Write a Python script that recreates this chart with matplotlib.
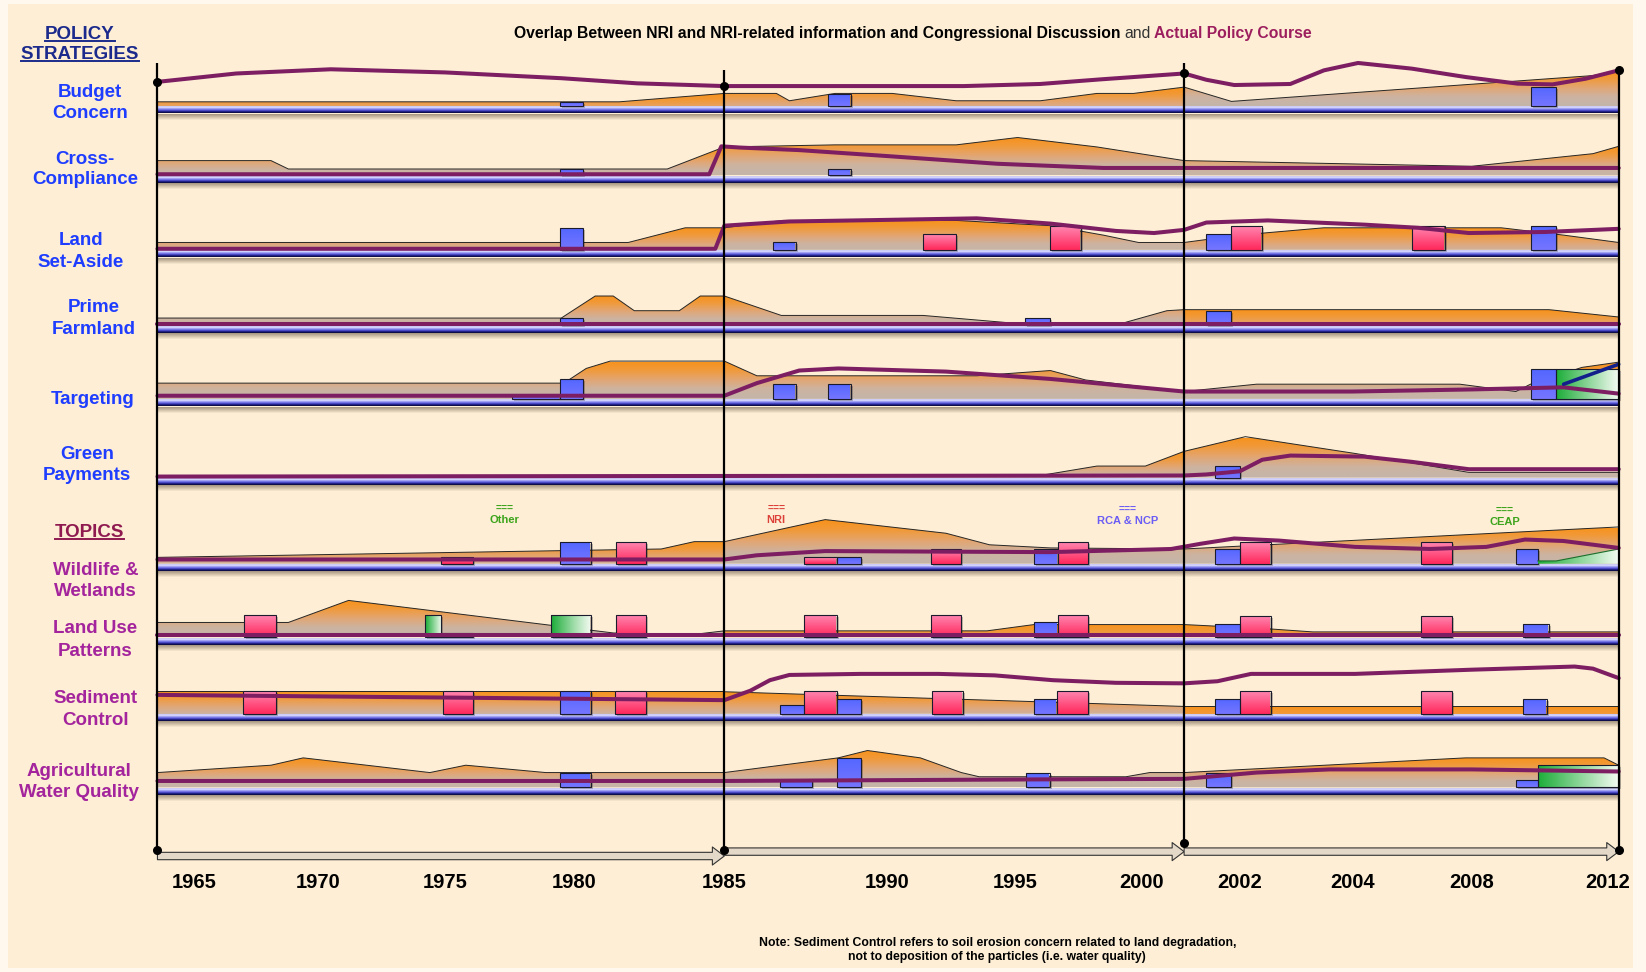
import numpy as np
import matplotlib
matplotlib.use("Agg")
import matplotlib.pyplot as plt
import matplotlib.transforms as mtransforms
from matplotlib.patches import Polygon, Rectangle
from matplotlib.lines import Line2D
from matplotlib.colors import LinearSegmentedColormap

plt.rcParams['font.family'] = ['Liberation Sans', 'DejaVu Sans']

# ---------------------------------------------------------------- DATA
tick_years = [1965, 1970, 1975, 1980, 1985, 1990, 1995, 2000, 2002, 2004, 2008, 2012]
period_breaks = [1963.6, 1985, 2001, 2012]

strategy_labels = ["Budget\nConcern", "Cross-\nCompliance", "Land\nSet-Aside",
                   "Prime\nFarmland", "Targeting", "Green\nPayments"]
topic_labels = ["Wildlife &\nWetlands", "Land Use\nPatterns", "Sediment\nControl",
                "Agricultural\nWater Quality"]
legend_labels = ["Other", "NRI", "RCA & NCP", "CEAP"]

# Budget Concern
budget_disc_x = [1963.6, 1981.5, 1985, 1986.6, 1987.0, 1988.4, 1990.2, 1992.7, 1996.0, 1998.25, 1999.7, 2001, 2001.85, 2011.3, 2012]
budget_disc_v = [4, 4, 12, 12, 5, 12, 12, 5, 5, 12, 12, 18, 4.4, 29, 34]
budget_pol_x = [1963.6, 1966.7, 1970.5, 1975.0, 1979.5, 1982.1, 1985, 1990, 1993, 1996, 1998.4, 2001,
                2001.4, 2001.9, 2002.9, 2003.5, 2004.2, 2006.0, 2007.8, 2009.25, 2010.2, 2011.1, 2012]
budget_pol_v = [23, 31, 35, 32, 26.5, 21.6, 19, 19, 19, 21, 25.4, 31,
                25, 20, 21, 34, 41, 35.6, 27.6, 21.3, 20.6, 26, 34]
budget_events = [(1979.45, 1980.3, 4, 'RCA'), (1988.2, 1988.9, 11, 'RCA'), (2009.6, 2010.3, 18, 'RCA')]

# Cross-Compliance
cross_disc_x = [1963.6, 1968.1, 1968.8, 1983.1, 1985, 1988.4, 1992.7, 1995.1, 1998.25, 2001, 2008.0, 2011.3, 2012]
cross_disc_v = [14, 14, 6, 6, 27, 29, 29, 36, 27, 14, 8.6, 20.6, 27.6]
cross_pol_x = [1963.6, 1984.5, 1984.9, 1985.5, 1987.3, 1990.2, 1994.3, 1998.5, 2001, 2012]
cross_pol_v = [1, 1, 27.6, 26.4, 24, 18, 11, 7, 7, 7]
cross_events = [(1979.45, 1980.3, 6, 'RCA'), (1988.2, 1988.9, 6, 'RCA')]

# Land Set-Aside
setaside_disc_x = [1963.6, 1981.8, 1983.7, 1985, 1986.8, 1992.7, 1996.4, 1998.5, 1999.9, 2001, 2002, 2003.5, 2008.8, 2010.5, 2012]
setaside_disc_v = [7, 7, 21, 21, 28, 28, 23, 14, 7, 7, 14, 21, 21, 14, 7]
setaside_pol_x = [1963.6, 1984.7, 1985, 1987.0, 1989, 1993.5, 1996.4, 1999, 2000.3, 2001, 2001.4, 2002.5, 2004.4, 2006.2, 2007.9, 2010, 2012]
setaside_pol_v = [1, 1, 23, 27, 28, 30, 25, 18, 16, 19, 26, 28, 24, 21, 16, 17, 20]
setaside_events = [(1979.45, 1980.3, 21, 'RCA'), (1986.5, 1987.2, 7, 'RCA'), (1991.4, 1992.7, 15, 'NRI'),
                   (1996.4, 1997.6, 23, 'NRI'), (2001.4, 2001.85, 15, 'RCA'), (2001.85, 2002.4, 23, 'NRI'),
                   (2006.0, 2007.1, 23, 'NRI'), (2009.6, 2010.3, 23, 'RCA')]

# Prime Farmland
prime_disc_x = [1963.6, 1979.5, 1980.7, 1981.3, 1982.0, 1983.5, 1984.2, 1985, 1986.75, 1991.4, 1995.5, 1999.1, 2000.6, 2001, 2010.1, 2012]
prime_disc_v = [7, 7, 28, 28, 14, 14, 28, 28, 9.5, 9.5, 1, 1, 14, 15, 15, 8]
prime_pol_x = [1963.6, 2012]
prime_pol_v = [1, 1]
prime_events = [(1979.45, 1980.3, 7, 'RCA'), (1995.4, 1996.4, 7, 'RCA'), (2001.4, 2001.85, 14, 'RCA')]

# Targeting
target_disc_x = [1963.6, 1979.6, 1980.4, 1981.2, 1985, 1986.0, 1993.5, 1996.4, 1997.8, 2001, 2002.3, 2007.6, 2009.2, 2009.6, 2011.0, 2012]
target_disc_v = [15, 15, 29, 36, 36, 22, 22, 27, 18, 7, 14, 14, 7, 14, 30, 35]
target_pol_x = [1963.6, 1985, 1986.0, 1987.3, 1988.5, 1992.3, 1996.4, 2001, 2004, 2008, 2010.5, 2012]
target_pol_v = [3, 3, 15, 27, 29, 26, 19, 7, 7, 9, 11, 5]
target_events = [(1977.6, 1979.45, 3, 'RCA'), (1979.45, 1980.3, 19, 'RCA'), (1986.5, 1987.2, 14, 'RCA'),
                 (1988.2, 1988.9, 14, 'RCA'), (2009.6, 2010.3, 28, 'RCA'), (2010.3, 2012, 28, 'CEAP')]
target_ceap_x = [2010.5, 2012]
target_ceap_v = [14, 33]

# Green Payments
green_disc_x = [1963.6, 1985, 1996.0, 1998.25, 2000.1, 2001, 2002.1, 2004.1, 2007.9, 2012]
green_disc_v = [2, 2, 2, 11, 11, 25, 39, 23, 5, 5]
green_pol_x = [1963.6, 2001, 2001.4, 2002.0, 2002.4, 2002.9, 2004.4, 2006.0, 2007.9, 2012]
green_pol_v = [1, 2, 3, 6, 17, 21, 20, 15, 8, 8]
green_events = [(2001.55, 2002.0, 11, 'RCA')]

# Wildlife & Wetlands
wild_disc_x = [1963.6, 1982.9, 1984.0, 1985, 1988.1, 1992.3, 1994.0, 1996.4, 2001, 2012]
wild_disc_v = [6, 14, 21, 21, 42, 29, 18, 15, 14, 35]
wild_pol_x = [1963.6, 1985, 1986, 1988.1, 1996.4, 2000.7, 2001.3, 2001.9, 2002.7, 2004.1, 2006.6, 2008.4, 2009.45, 2010.5, 2012]
wild_pol_v = [4, 4, 8, 12, 11, 14, 19, 24, 22, 16, 14, 16, 23, 21.6, 15]
wild_events = [(1974.85, 1976.1, 6, 'NRI'), (1979.45, 1980.55, 21, 'RCA'), (1981.4, 1982.4, 21, 'NRI'),
               (1987.45, 1988.45, 6, 'NRI'), (1988.45, 1989.2, 6, 'RCA'), (1991.7, 1992.9, 14, 'NRI'),
               (1995.75, 1996.7, 14, 'RCA'), (1996.7, 1997.9, 21, 'NRI'), (2001.55, 2002.0, 14, 'RCA'),
               (2002.0, 2002.55, 21, 'NRI'), (2006.3, 2007.35, 21, 'NRI'), (2009.2, 2009.8, 14, 'RCA')]
wild_ceap_x = [2009.8, 2010.3, 2012]
wild_ceap_v = [2.6, 2.6, 14]

# Land Use Patterns
landuse_disc_x = [1963.6, 1968.8, 1971.2, 1981.3, 1983.8, 1985, 1993.9, 1995.75, 2001, 2002.5, 2003.3, 2012]
landuse_disc_v = [14, 14, 35, 4, 2, 6, 6, 12, 12, 8, 5, 5]
landuse_pol_x = [1963.6, 2012]
landuse_pol_v = [2, 2]
landuse_events = [(1967.0, 1968.3, 21, 'NRI'), (1974.2, 1974.85, 21, 'Other'), (1974.85, 1976.1, 4, 'NRI'),
                  (1979.1, 1980.55, 21, 'Other'), (1981.4, 1982.4, 21, 'NRI'), (1987.45, 1988.45, 21, 'NRI'),
                  (1991.7, 1992.9, 21, 'NRI'), (1995.75, 1996.7, 14, 'RCA'), (1996.7, 1997.9, 21, 'NRI'),
                  (2001.55, 2002.0, 13, 'RCA'), (2002.0, 2002.55, 20, 'NRI'), (2006.3, 2007.35, 20, 'NRI'),
                  (2009.4, 2010.1, 13, 'RCA')]

# Sediment Control
sediment_disc_x = [1963.6, 1985, 1985, 2001, 2012]
sediment_disc_v = [22, 22, 21, 7, 7]
sediment_pol_x = [1963.6, 1985, 1985.8, 1986.4, 1987.0, 1989.2, 1992, 1994.2, 1996.5, 1999, 2001,
                  2001.6, 2002.2, 2004.1, 2008, 2010.8, 2011.3, 2012]
sediment_pol_v = [18, 13, 22, 32, 37, 38, 38, 36.6, 32, 29.5, 29, 31, 38, 38, 42, 45, 43, 34]
sediment_events = [(1966.95, 1968.3, 22, 'NRI'), (1974.9, 1976.1, 22, 'NRI'), (1979.45, 1980.55, 22, 'RCA'),
                   (1981.35, 1982.4, 22, 'NRI'), (1986.7, 1987.45, 8, 'RCA'), (1987.45, 1988.45, 22, 'NRI'),
                   (1988.45, 1989.2, 14, 'RCA'), (1991.75, 1992.95, 22, 'NRI'), (1995.75, 1996.65, 14, 'RCA'),
                   (1996.65, 1997.9, 22, 'NRI'), (2001.55, 2002.0, 14, 'RCA'), (2002.0, 2002.55, 22, 'NRI'),
                   (2006.3, 2007.35, 22, 'NRI'), (2009.4, 2010.05, 14, 'RCA')]

# Agricultural Water Quality
water_disc_x = [1963.6, 1968.1, 1969.4, 1974.4, 1975.8, 1978.9, 1985, 1988.5, 1989.4, 1991.3, 1992.9,
                1993.6, 1999.4, 2000.2, 2001, 2007.8, 2011.6, 2012]
water_disc_v = [14, 21, 28, 14, 21, 14, 14, 28, 35, 28, 14, 10, 10, 14, 14, 28, 28, 21]
water_pol_x = [1963.6, 1985, 1996, 2001, 2002.3, 2003.6, 2008, 2012]
water_pol_v = [6, 6, 7.5, 8, 14, 17, 17, 15]
water_events = [(1979.45, 1980.55, 14, 'RCA'), (1986.7, 1987.7, 7, 'RCA'), (1988.45, 1989.2, 28, 'RCA'),
                (1995.45, 1996.4, 14, 'RCA'), (2001.4, 2001.85, 14, 'RCA'), (2009.2, 2009.8, 7, 'RCA'),
                (2009.8, 2012, 21, 'CEAP')]

rows = [
    (budget_disc_x, budget_disc_v, budget_pol_x, budget_pol_v, budget_events),
    (cross_disc_x, cross_disc_v, cross_pol_x, cross_pol_v, cross_events),
    (setaside_disc_x, setaside_disc_v, setaside_pol_x, setaside_pol_v, setaside_events),
    (prime_disc_x, prime_disc_v, prime_pol_x, prime_pol_v, prime_events),
    (target_disc_x, target_disc_v, target_pol_x, target_pol_v, target_events),
    (green_disc_x, green_disc_v, green_pol_x, green_pol_v, green_events),
    (wild_disc_x, wild_disc_v, wild_pol_x, wild_pol_v, wild_events),
    (landuse_disc_x, landuse_disc_v, landuse_pol_x, landuse_pol_v, landuse_events),
    (sediment_disc_x, sediment_disc_v, sediment_pol_x, sediment_pol_v, sediment_events),
    (water_disc_x, water_disc_v, water_pol_x, water_pol_v, water_events),
]

# ---------------------------------------------------------------- LAYOUT / STYLE
W, H = 1568.0, 926.0                      # layout units of the canvas
knot_years = [1950.0, 1963.6, 1965, 1970, 1975, 1980, 1985, 1990, 1995, 2000, 2001, 2002, 2004, 2008, 2012, 2030]
knot_pos = [-190, 150, 185, 303, 424, 547, 690, 845, 967, 1087, 1128, 1181, 1288, 1402, 1542, 2172]
row_base = [101, 167, 238, 310, 380, 455, 537, 607, 680, 750]
TUBE_H = 7
GRAD_SPAN = 30

POLICY_C = '#7D1E63'
AREA_COLS = ['#F8921A', '#F09A3C', '#E2A673', '#CDB3A0', '#C4B5A9']
TUBE_COLS = ['#8C8CB4', '#C8C8F4', '#DCDCFF', '#ABABF6', '#7D7DEA', '#4E4ECC', '#23238C', '#0E0E4C']
EV_COLS = {'RCA': ['#5367FF', '#7575FF'], 'NRI': ['#FF88B3', '#FF2A5C'],
           'Other': ['#1FAE3B', '#F4FBF2'], 'CEAP': ['#1FAE3B', '#F4FBF2']}


def fwd(x):
    return np.interp(x, knot_years, knot_pos)


def inv(p):
    return np.interp(p, knot_pos, knot_years)


fig = plt.figure(figsize=(16.46, 9.72), dpi=100)
fig.patch.set_facecolor('#FFF8EE')
fig.add_artist(Rectangle((8 / W, 1 - 922 / H), (1556 - 8) / W, (922 - 4) / H,
                         transform=fig.transFigure, fc='#FDEED5', ec='none', zorder=-10))

xlim = (1963.0, 2012.4)
p0, p1 = fwd(xlim[0]), fwd(xlim[1])
ax = fig.add_axes([p0 / W, 0, (p1 - p0) / W, 1])
ax.set_xscale('function', functions=(fwd, inv))
ax.set_xlim(*xlim)
ax.set_ylim(H, 0)
ax.set_autoscale_on(False)
ax.axis('off')


def grad(x0, x1, ytop, ybot, cols, horizontal=False, z=3):
    cmap = LinearSegmentedColormap.from_list('g', cols)
    arr = np.linspace(0, 1, 64)
    arr = arr.reshape(1, -1) if horizontal else arr.reshape(-1, 1)
    im = ax.imshow(arr, cmap=cmap, vmin=0, vmax=1, extent=(x0, x1, ybot, ytop), origin='upper',
                   aspect='auto', interpolation='bilinear', zorder=z)
    return im


def split_segments(xs, vs, breaks=(1985, 2001)):
    segs, cx, cv = [], [], []
    i, n = 0, len(xs)
    while i < n:
        cx.append(xs[i]); cv.append(vs[i])
        if xs[i] in breaks and len(cx) > 1:
            segs.append((cx, cv))
            if i + 1 < n and xs[i + 1] == xs[i]:
                i += 1
            cx, cv = [xs[i]], [vs[i]]
        i += 1
    if len(cx) > 1:
        segs.append((cx, cv))
    return segs


def draw_area(xs, vs, base, cols, horizontal=False, z=1, outline=True, top_anchor=True):
    for sx, sv in split_segments(xs, vs):
        sx = np.asarray(sx, float); sv = np.asarray(sv, float)
        verts = [(sx[0], base)] + list(zip(sx, base - sv)) + [(sx[-1], base)]
        poly = Polygon(verts, closed=True, fc='none', ec='none')
        poly.set_transform(ax.transData)
        ytop = base - sv.max()
        ybot = max(base, ytop + GRAD_SPAN) if top_anchor else base
        im = grad(sx[0], sx[-1], ytop, ybot, cols, horizontal=horizontal, z=z)
        im.set_clip_path(poly)
        if outline:
            ax.plot(sx, base - sv, color='#262626', lw=0.7, zorder=z + 0.5)


shadow_tr = mtransforms.offset_copy(ax.transData, fig=fig, x=2, y=-2, units='dots')
tube_shadow = np.zeros((16, 1, 4))
tube_shadow[..., :3] = (0.30, 0.22, 0.15)
tube_shadow[..., 3] = np.linspace(0.55, 0.0, 16)[:, None]

for (dx, dv, px, pv, events), base in zip(rows, row_base):
    draw_area(dx, dv, base, AREA_COLS)
    # tube
    grad(period_breaks[0], period_breaks[-1], base, base + TUBE_H, TUBE_COLS, z=2)
    ax.imshow(tube_shadow, extent=(period_breaks[0], period_breaks[-1], base + TUBE_H + 7, base + TUBE_H),
              origin='upper', aspect='auto', interpolation='bilinear', zorder=1.8)
    # events
    for x0, x1, h, kind in events:
        ax.add_patch(Rectangle((x0, base - h), x1 - x0, h, fc=(0, 0, 0, 0.22), ec='none',
                               transform=shadow_tr, zorder=2.9))
        grad(x0, x1, base - h, base, EV_COLS[kind], horizontal=kind in ('Other', 'CEAP'), z=3)
        ax.add_patch(Rectangle((x0, base - h), x1 - x0, h, fc='none', ec='#1B1B2E', lw=0.8, zorder=3.2))
    # actual policy course
    ax.plot(px, base - np.asarray(pv, float), color=POLICY_C, lw=2.9, zorder=5,
            solid_joinstyle='round', solid_capstyle='round')

# CEAP extras
draw_area(wild_ceap_x, wild_ceap_v, row_base[6], EV_COLS['CEAP'], horizontal=True, z=3.3,
          outline=False, top_anchor=False)
ax.plot(wild_ceap_x, row_base[6] - np.asarray(wild_ceap_v), color='#1B6E2A', lw=0.8, zorder=3.4)
ax.plot(target_ceap_x, row_base[4] - np.asarray(target_ceap_v), color='#13208C', lw=2.6, zorder=5.5,
        solid_capstyle='round')

# period dividers
div_top = [60, 67, 60, 68]
div_bot = [810, 810, 803, 810]
for x, t, b in zip(period_breaks, div_top, div_bot):
    ax.plot([x, x], [t, b], color='black', lw=1.6, zorder=7, solid_capstyle='butt', clip_on=False)
top_dots = row_base[0] - np.interp(period_breaks, budget_pol_x, budget_pol_v)
ax.scatter(period_breaks, top_dots, s=30, c='black', zorder=8, clip_on=False)
ax.scatter(period_breaks, div_bot, s=30, c='black', zorder=8, clip_on=False)

# period arrows
arrow_y = [815.5, 811.3, 811.3]
for a, b, y in zip(period_breaks[:-1], period_breaks[1:], arrow_y):
    ax.annotate('', xy=(b, y), xytext=(a, y),
                arrowprops=dict(arrowstyle='simple,head_length=0.86,head_width=1.3,tail_width=0.53',
                                fc='#E4D9C9', ec='#333333', lw=0.8, shrinkA=0, shrinkB=0,
                                mutation_scale=10), zorder=6)

# year labels
for yr in tick_years:
    tr = ax.transData
    if yr == tick_years[-1]:
        tr = mtransforms.offset_copy(ax.transData, fig=fig, x=-11.5, y=0, units='dots')
    ax.text(yr, 845.6, str(yr), ha='center', va='baseline', fontsize=14.5, fontweight='bold',
            color='black', transform=tr)


# ---------------------------------------------------------------- TEXT
def ftext(x, y, s, **kw):
    return fig.text(x / W, 1 - y / H, s, **kw)


renderer = fig.canvas.get_renderer()


def underline(t, y, color):
    bb = t.get_window_extent(renderer)
    yy = (1 - y / H) * fig.bbox.height
    fig.add_artist(Line2D([bb.x0, bb.x1], [yy, yy], transform=mtransforms.IdentityTransform(),
                          color=color, lw=1.4))


NAVY = '#1B2A8C'
t = ftext(76, 37, "POLICY", ha='center', va='baseline', fontsize=13.5, fontweight='bold', color=NAVY)
underline(t, 39, NAVY)
t = ftext(76, 56.5, "STRATEGIES", ha='center', va='baseline', fontsize=13.5, fontweight='bold', color=NAVY)
underline(t, 58.5, NAVY)

TOPIC_HEAD = '#8E1A50'
t = ftext(85, 511.5, "TOPICS", ha='center', va='baseline', fontsize=13.5, fontweight='bold', color=TOPIC_HEAD)
underline(t, 513.5, TOPIC_HEAD)

strat_pos = [(86, [86, 105.5]), (81, [149.5, 169]), (77, [227, 248]), (89, [291, 312]),
             (88, [378]), (83, [431, 451])]
for lab, (x, ys) in zip(strategy_labels, strat_pos):
    for line, y in zip(lab.split('\n'), ys):
        ftext(x, y + 6.5, line, ha='center', va='baseline', fontsize=13.5, fontweight='bold', color='#1E3DFF')

topic_pos = [(91, [541, 561]), (91, [597, 618]), (91, [663, 684]), (75, [733, 753])]
for lab, (x, ys) in zip(topic_labels, topic_pos):
    for line, y in zip(lab.split('\n'), ys):
        ftext(x, y + 6.5, line, ha='center', va='baseline', fontsize=13.5, fontweight='bold', color='#A3249C')

# legend of information sources
leg_pos = [(481, 483.5, 498.5), (739.4, 483.5, 498.5), (1074.6, 484.5, 499.5), (1433.8, 486, 500.5)]
leg_cols = ['#3CA41B', '#DD4038', '#6B5CF5', '#3CA41B']
for lab, (x, y1, y2), c in zip(legend_labels, leg_pos, leg_cols):
    ftext(x, y1, "===", ha='center', va='center', fontsize=7.5, fontweight='bold', color=c)
    ftext(x, y2, lab, ha='center', va='baseline', fontsize=8, fontweight='bold', color=c)

# title in three colour pieces
title_parts = [("Overlap Between NRI and NRI-related information and Congressional Discussion", 'black', 'bold'),
               ("and", '#333333', 'normal'),
               ("Actual Policy Course", '#9C1E5E', 'bold')]
tobjs = [fig.text(0, 0, s, fontsize=11.3, fontweight=w, color=c, va='baseline') for s, c, w in title_parts]
widths = [o.get_window_extent(renderer).width for o in tobjs]
sp = 3.5
total = sum(widths) + sp * (len(widths) - 1)
x = 869.5 / W * fig.bbox.width - total / 2
for o, w in zip(tobjs, widths):
    o.set_position((x / fig.bbox.width, 1 - 36.5 / H))
    x += w + sp

ftext(950, 901, "Note: Sediment Control refers to soil erosion concern related to land degradation,",
      ha='center', va='baseline', fontsize=8.8, fontweight='bold', color='black')
ftext(950, 915, "not to deposition of the particles (i.e. water quality)",
      ha='center', va='baseline', fontsize=8.8, fontweight='bold', color='black')

fig.savefig('out.png', dpi=100, facecolor=fig.get_facecolor())
